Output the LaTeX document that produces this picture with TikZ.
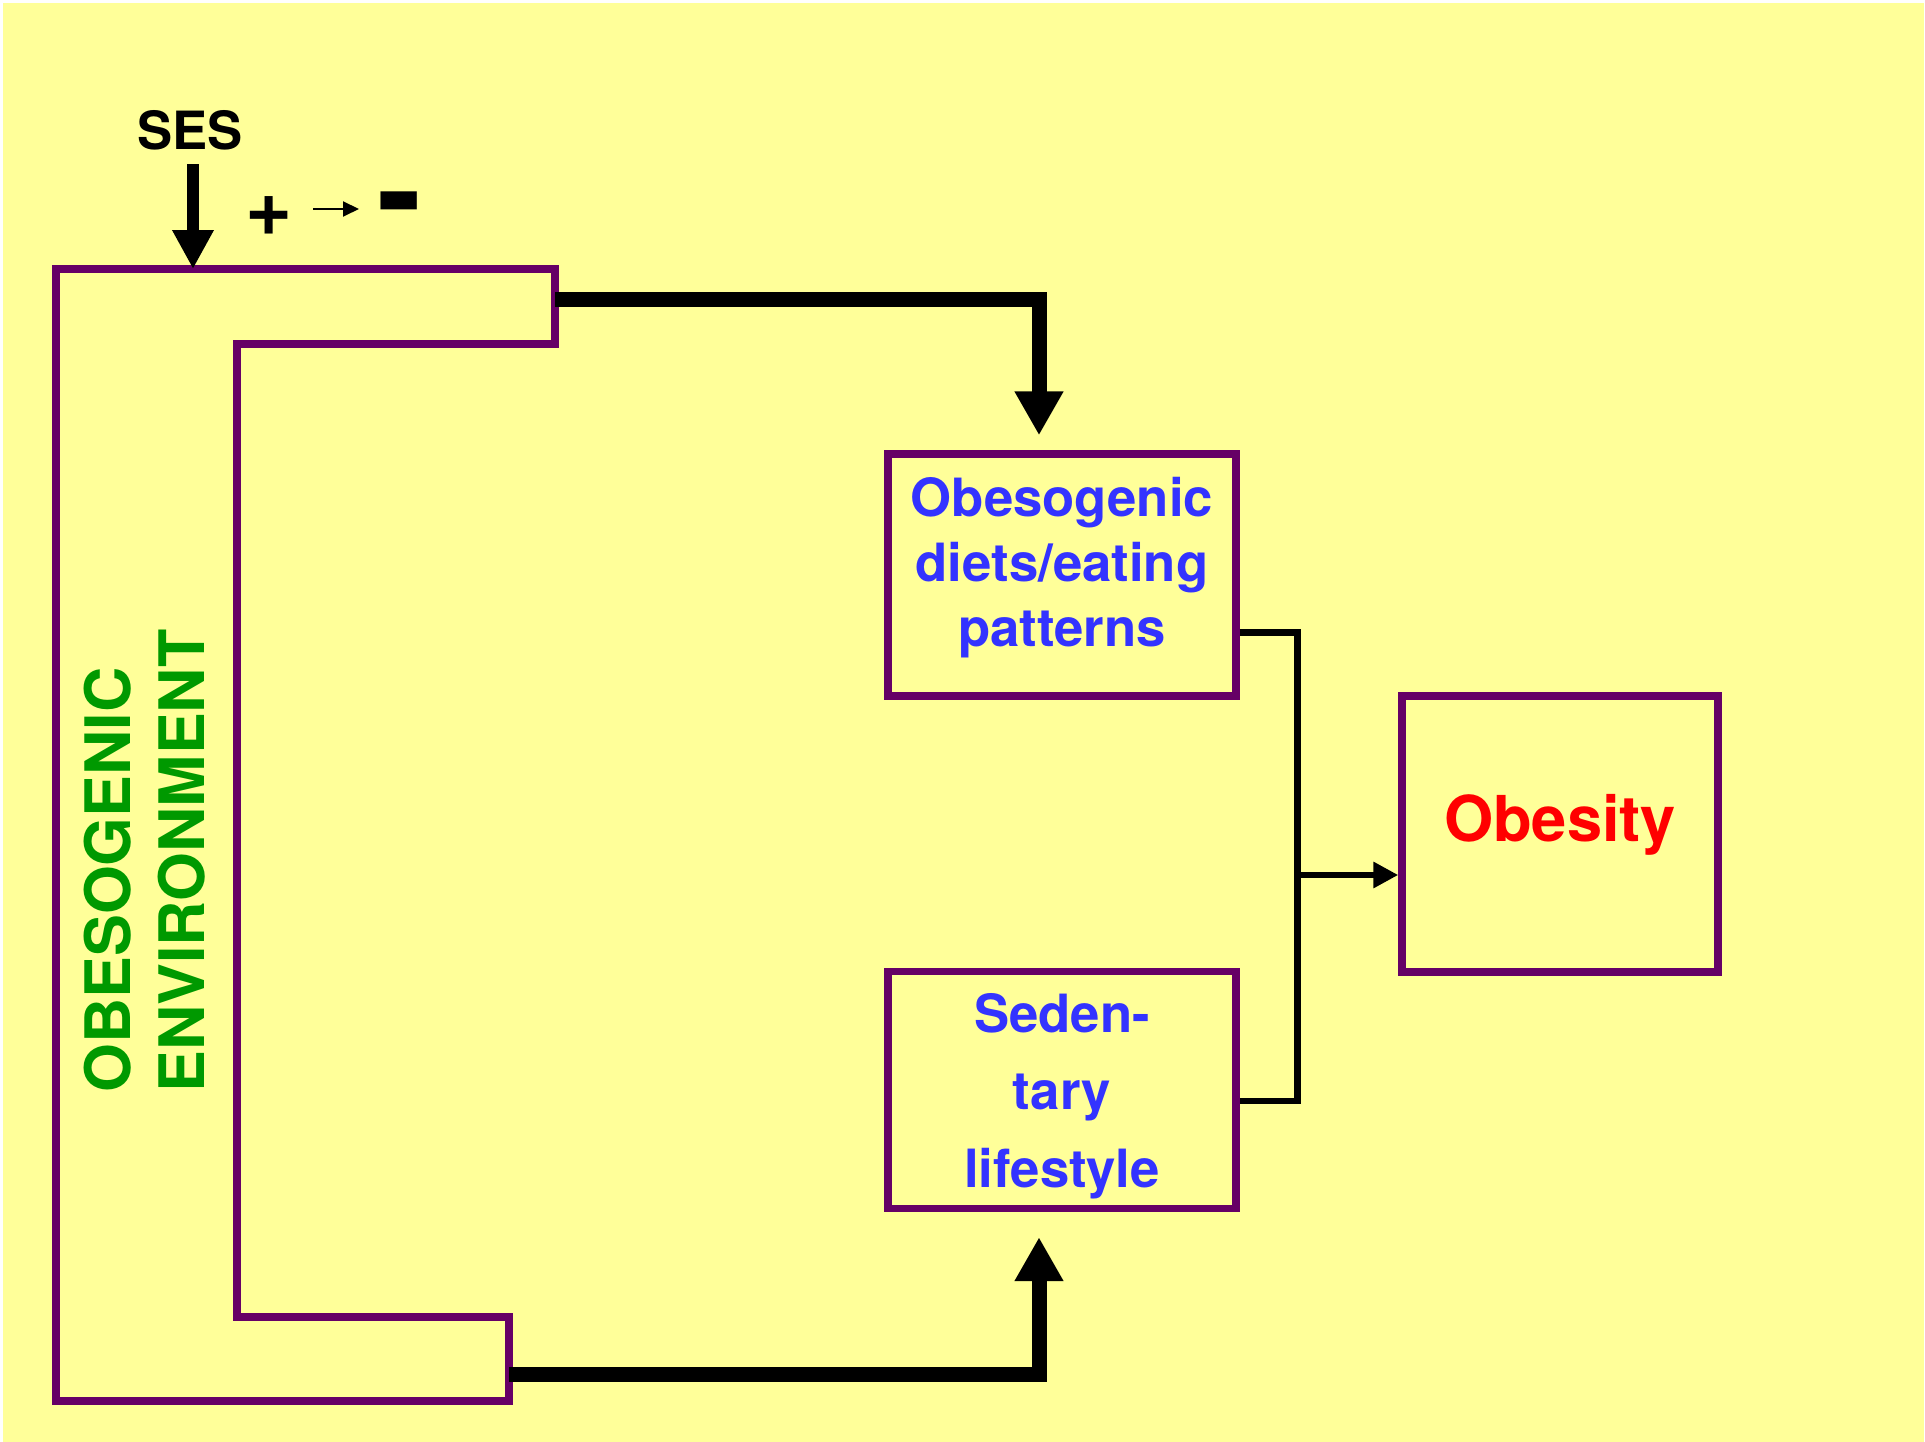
\documentclass[tikz,border=0pt]{standalone}
\usepackage{fontspec}
\setmainfont{TeX Gyre Heros}
\usetikzlibrary{arrows.meta}
\definecolor{bgyellow}{HTML}{FFFF99}
\definecolor{boxpurple}{HTML}{660066}
\definecolor{txtblue}{HTML}{3333FF}
\definecolor{envgreen}{HTML}{009900}
\definecolor{obsred}{HTML}{FF0000}

\begin{document}
\begin{tikzpicture}[%
      x=0.02cm, y=-0.02cm,
      box/.style={%
        draw          = boxpurple,
        line width    = 0.15cm,
        minimum width = 6.96cm,
      },
      box-text/.style={%
        align         = center,
        text          = txtblue,
        font          = \bfseries\fontsize{30}{37}\selectfont,
      },
      fat/.style={%
        line width = 0.3cm,
        -{Triangle[width=0.92cm,length=0.88cm]},
      },
      link/.style={%
        line width = 0.14cm,
      },
      sign/.style={%
        inner sep = 0pt,
      }
      ]

      \useasboundingbox (0,0) rectangle (1925,1442);
      \fill[bgyellow] (3,3) rectangle (1924,1442);

      \draw[line width=0.15cm, boxpurple] (56,269) -- (555,269) -- (555,344) -- (237,344)
        -- (237,1317) -- (509,1317) -- (509,1401) -- (56,1401) -- cycle;
      \coordinate (env-ses) at (193,269);
      \coordinate (env-top) at (555,300);
      \coordinate (env-bot) at (509,1374);

      \node[rotate=90, anchor=west, align=left, inner sep=0pt, text=envgreen,
        font=\bfseries\fontsize{35.7}{42}\selectfont] (Env-Lbl) at (145,1093) {OBESOGENIC\\ENVIRONMENT};

      \node[sign, font=\bfseries\fontsize{30}{35}\selectfont] (SES) at (190,130) {SES};
      \node[sign, font=\bfseries\fontsize{46}{50}\selectfont] (plus) at (269,216) {+};
      \node[sign, font=\bfseries\fontsize{76}{80}\selectfont] (minus) at (400,215) {-};
      \coordinate (pm-a) at (313,209);
      \coordinate (pm-b) at (359,209);

      \node[box, minimum height=4.84cm,
        label={[box-text, yshift=0.15cm]center:Obesogenic\\diets/eating\\patterns}] (Diet-Pat) at (1062,575) {};
      \node[box, minimum height=4.74cm,
        label={[box-text, yshift=-0.12cm, font=\bfseries\fontsize{30}{44}\selectfont]center:Seden-\\tary\\lifestyle}] (Sed-Life) at (1062,1090) {};
      \node[box, minimum width=6.32cm, minimum height=5.52cm,
        label={[box-text, yshift=0.18cm, text=obsred, font=\bfseries\fontsize{36}{43}\selectfont]center:Obesity}] (Obesity) at (1560,834) {};
      \coordinate (merge) at (1297,875);

      \draw[line width=0.24cm, -{Triangle[width=0.78cm,length=0.78cm]}, shorten <=0.28cm] (SES.south -| env-ses) -- (env-ses);
      \draw[line width=0.04cm, -{Triangle[width=0.3cm,length=0.32cm]}] (pm-a) -- (pm-b);

      \draw[fat, shorten >=0.30cm] (env-top) -| ([xshift=-0.46cm]Diet-Pat.north);
      \draw[fat, shorten >=0.5cm] (env-bot) -| ([xshift=-0.46cm]Sed-Life.south);

      \draw[link] ([yshift=-1.16cm]Diet-Pat.east) -| (merge) |- ([yshift=-0.22cm]Sed-Life.east);
      \draw[link, -{Triangle[width=0.5cm,length=0.5cm]}] (merge) -- (merge -| Obesity.west);

    \end{tikzpicture}
\end{document}
